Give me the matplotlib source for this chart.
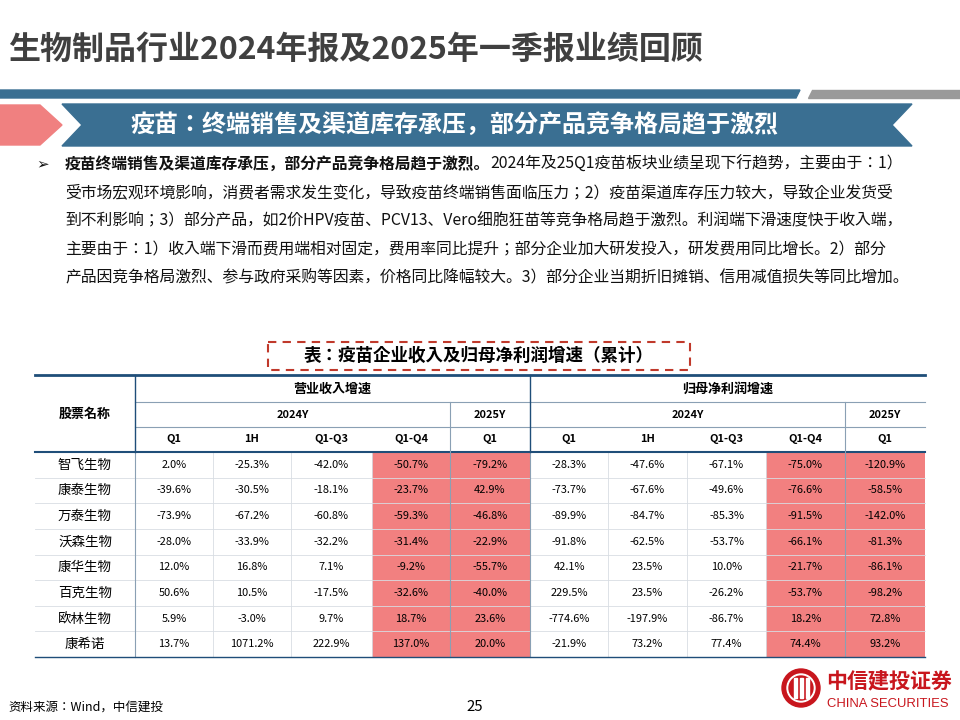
import matplotlib
matplotlib.use("Agg")
import matplotlib.pyplot as plt
from matplotlib.patches import Polygon, Rectangle, Circle

plt.rcParams["font.family"] = ["Noto Sans CJK JP", "DejaVu Sans"]

companies = ["智飞生物", "康泰生物", "万泰生物", "沃森生物", "康华生物", "百克生物", "欧林生物", "康希诺"]
col_labels = ["Q1", "1H", "Q1-Q3", "Q1-Q4", "Q1"]
revenue = [
    ["2.0%", "-25.3%", "-42.0%", "-50.7%", "-79.2%"],
    ["-39.6%", "-30.5%", "-18.1%", "-23.7%", "42.9%"],
    ["-73.9%", "-67.2%", "-60.8%", "-59.3%", "-46.8%"],
    ["-28.0%", "-33.9%", "-32.2%", "-31.4%", "-22.9%"],
    ["12.0%", "16.8%", "7.1%", "-9.2%", "-55.7%"],
    ["50.6%", "10.5%", "-17.5%", "-32.6%", "-40.0%"],
    ["5.9%", "-3.0%", "9.7%", "18.7%", "23.6%"],
    ["13.7%", "1071.2%", "222.9%", "137.0%", "20.0%"],
]
profit = [
    ["-28.3%", "-47.6%", "-67.1%", "-75.0%", "-120.9%"],
    ["-73.7%", "-67.6%", "-49.6%", "-76.6%", "-58.5%"],
    ["-89.9%", "-84.7%", "-85.3%", "-91.5%", "-142.0%"],
    ["-91.8%", "-62.5%", "-53.7%", "-66.1%", "-81.3%"],
    ["42.1%", "23.5%", "10.0%", "-21.7%", "-86.1%"],
    ["229.5%", "23.5%", "-26.2%", "-53.7%", "-98.2%"],
    ["-774.6%", "-197.9%", "-86.7%", "18.2%", "72.8%"],
    ["-21.9%", "73.2%", "77.4%", "74.4%", "93.2%"],
]
title = "生物制品行业2024年报及2025年一季报业绩回顾"
banner = "疫苗：终端销售及渠道库存承压，部分产品竞争格局趋于激烈"
body_bold = "疫苗终端销售及渠道库存承压，部分产品竞争格局趋于激烈。"
body_lines = [
    "2024年及25Q1疫苗板块业绩呈现下行趋势，主要由于：1）",
    "受市场宏观环境影响，消费者需求发生变化，导致疫苗终端销售面临压力；2）疫苗渠道库存压力较大，导致企业发货受",
    "到不利影响；3）部分产品，如2价HPV疫苗、PCV13、Vero细胞狂苗等竞争格局趋于激烈。利润端下滑速度快于收入端，",
    "主要由于：1）收入端下滑而费用端相对固定，费用率同比提升；部分企业加大研发投入，研发费用同比增长。2）部分",
    "产品因竞争格局激烈、参与政府采购等因素，价格同比降幅较大。3）部分企业当期折旧摊销、信用减值损失等同比增加。",
]
table_title = "表：疫苗企业收入及归母净利润增速（累计）"
source = "资料来源：Wind，中信建投"

fig = plt.figure(figsize=(9.6, 7.2), dpi=100)
ax = fig.add_axes([0, 0, 1, 1])
ax.set_xlim(0, 960); ax.set_ylim(720, 0); ax.axis("off")
PX = 0.72  # px -> pt

BLUE = "#3a6f92"; DARK = "#1f4e79"; RED = "#f28080"
ax.text(8, 50, title, fontsize=32*PX, fontweight="bold", color="#404040", va="center")
ax.add_patch(Polygon([[0, 90], [800, 90], [796, 98], [0, 98]], color=BLUE))
ax.add_patch(Polygon([[812, 90], [960, 90], [960, 98], [808, 98]], color="#9a9a9a"))
ax.add_patch(Polygon([[0, 105], [40, 105], [62, 125], [40, 145], [0, 145]], color="#f08080"))
ax.add_patch(Polygon([[62, 104], [912, 104], [892, 125], [912, 146], [62, 146], [82, 125]], color=BLUE))
ax.text(455, 125, banner, fontsize=24*PX, fontweight="bold", color="white", ha="center", va="center")

ax.text(36, 164, "➢", fontsize=15*PX, va="center", color="#111", family="DejaVu Sans")
ys = [164, 193, 221, 250, 278]
BFS = 15.8 * PX
t = ax.text(65, ys[0], body_bold, fontsize=BFS, fontweight="bold", va="center", color="#111")
fig.canvas.draw()
bb = t.get_window_extent()
ax.text(65 + bb.width, ys[0], body_lines[0], fontsize=BFS, va="center", color="#111")
for y, s in zip(ys[1:], body_lines[1:]):
    ax.text(65, y, s, fontsize=BFS, va="center", color="#111")

ax.add_patch(Rectangle((268, 342), 422, 28, fill=False, ec="#c0392b", lw=1.5, ls=(0, (4, 3))))
ax.text(479, 356, table_title, fontsize=17.5*PX, fontweight="bold", va="center", ha="center")

xb = [35, 135, 213, 291, 372, 450, 530, 608, 687, 766, 845, 925]
r0, r1, r2, r3 = 375, 402, 427, 452
rh = (657 - r3) / len(companies)
fs = 11 * PX
for blk in (0, 5):
    for c in (3, 4):
        x0 = xb[1 + blk + c]; x1 = xb[2 + blk + c]
        ax.add_patch(Rectangle((x0, r3), x1 - x0, rh * len(companies), color=RED, lw=0))
for i in range(len(companies) + 1):
    ax.plot([35, 925], [r3 + i * rh] * 2, color="#d8dde3", lw=0.6)
for x in xb[1:-1]:
    ax.plot([x, x], [r3, 657], color="#d8dde3", lw=0.6)
for x in (135, 450, 530, 845):
    ax.plot([x, x], [r3, 657], color="#8aa0b4", lw=0.8)
ax.plot([35, 925], [r0, r0], color=DARK, lw=2)
ax.plot([35, 925], [r3, r3], color=DARK, lw=1.5)
ax.plot([35, 925], [657, 657], color=DARK, lw=1)
ax.plot([135, 925], [r1, r1], color="#8aa0b4", lw=0.8)
ax.plot([135, 925], [r2, r2], color="#8aa0b4", lw=0.8)
ax.plot([135, 135], [r0, r3], color=DARK, lw=1)
ax.plot([530, 530], [r0, r3], color=DARK, lw=1)
for x in (450, 845):
    ax.plot([x, x], [r1, r3], color="#8aa0b4", lw=0.8)

ax.text(85, 414, "股票名称", fontsize=13*PX, fontweight="bold", ha="center", va="center")
for blk, name in ((0, "营业收入增速"), (5, "归母净利润增速")):
    ax.text((xb[1 + blk] + xb[6 + blk]) / 2, (r0 + r1) / 2, name, fontsize=13*PX, fontweight="bold", ha="center", va="center")
    ax.text((xb[1 + blk] + xb[5 + blk]) / 2, (r1 + r2) / 2, "2024Y", fontsize=fs, fontweight="bold", ha="center", va="center")
    ax.text((xb[5 + blk] + xb[6 + blk]) / 2, (r1 + r2) / 2, "2025Y", fontsize=fs, fontweight="bold", ha="center", va="center")
    for c, lab in enumerate(col_labels):
        ax.text((xb[1 + blk + c] + xb[2 + blk + c]) / 2, (r2 + r3) / 2, lab, fontsize=fs, fontweight="bold", ha="center", va="center")
for i, comp in enumerate(companies):
    y = r3 + (i + 0.5) * rh
    ax.text(85, y, comp, fontsize=13.5 * PX, ha="center", va="center")
    for blk, data in ((0, revenue), (5, profit)):
        for c, v in enumerate(data[i]):
            ax.text((xb[1 + blk + c] + xb[2 + blk + c]) / 2, y, v, fontsize=fs, ha="center", va="center")

ax.text(8, 707, source, fontsize=12.5 * PX, style="italic", va="center")
ax.text(475, 707, "25", fontsize=15 * PX, va="center", ha="center")
ax.add_patch(Circle((801, 688), 19, color="#c8161d"))
ax.add_patch(Circle((801, 688), 14, color="white"))
ax.add_patch(Circle((801, 688), 12, color="#c8161d"))
for dx in (-6, 0, 6):
    ax.add_patch(Rectangle((801 + dx - 1.5, 678), 3, 20, color="white"))
ax.text(826, 681, "中信建投证券", fontsize=21 * PX, fontweight="bold", color="#c8161d", va="center")
ax.text(827, 704, "CHINA SECURITIES", fontsize=13 * PX, color="#c8161d", va="center", family="Liberation Sans")

fig.savefig("out.png", dpi=100)
